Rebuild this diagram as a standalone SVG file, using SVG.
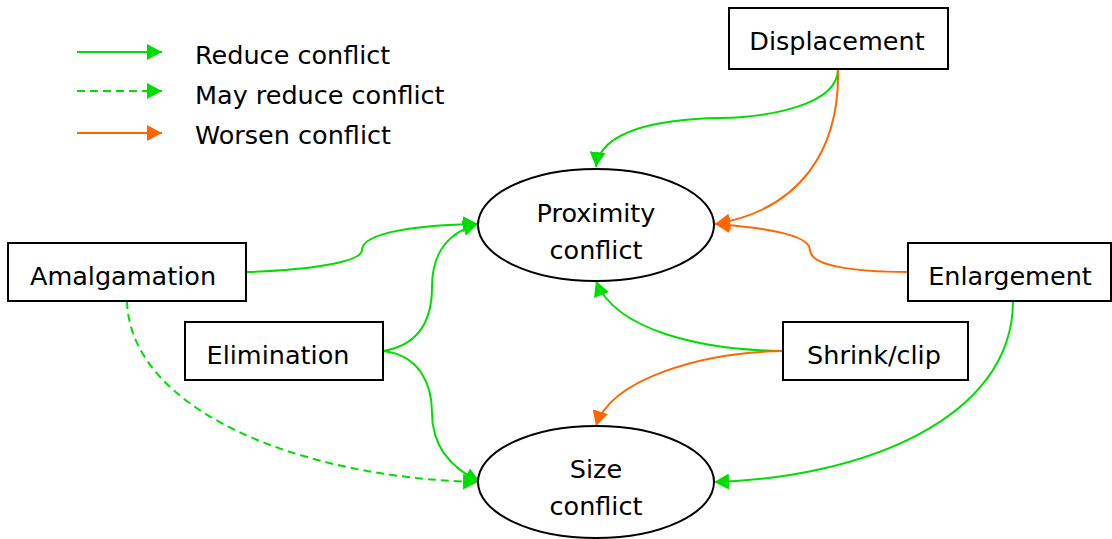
<svg xmlns="http://www.w3.org/2000/svg" width="1112" height="539" viewBox="0 0 1112 539">
<style>
.box{fill:#fff;stroke:#000;stroke-width:2}
.lbl{font-family:"DejaVu Sans",sans-serif;font-size:25.5px;fill:#000;text-anchor:middle}
.leg{font-family:"DejaVu Sans",sans-serif;font-size:25.5px;fill:#000}
.g{fill:none;stroke:#00dd00;stroke-width:2;marker-end:url(#ag)}
.gd{fill:none;stroke:#00dd00;stroke-width:2;stroke-dasharray:8,5;marker-end:url(#ag)}
.o{fill:none;stroke:#ff6600;stroke-width:2;marker-end:url(#ao)}
</style>
<defs>
<marker id="ag" markerWidth="16" markerHeight="16" refX="15" refY="8" orient="auto" markerUnits="userSpaceOnUse"><path d="M0,0 L15,8 L0,16 z" fill="#00dd00"/></marker>
<marker id="ao" markerWidth="16" markerHeight="16" refX="15" refY="8" orient="auto" markerUnits="userSpaceOnUse"><path d="M0,0 L15,8 L0,16 z" fill="#ff6600"/></marker>
</defs>
<rect width="1112" height="539" fill="#fff"/>
<g id="legend">
<path class="g" d="M77,52 L162,52"/>
<path class="gd" d="M77,91 L162,91"/>
<path class="o" d="M77,133 L162,133"/>
<text class="leg" x="195" y="64">Reduce conflict</text>
<text class="leg" x="195" y="104">May reduce conflict</text>
<text class="leg" x="195" y="144">Worsen conflict</text>
</g>
<g id="connectors">
<path class="g" d="M838,69 C838,105 770,117 720,118 C660,119 600,130 596,167"/>
<path class="o" d="M838,69 C840,150 800,210 715,224"/>
<path class="o" d="M908,272 C850,272 810,265 810,250 C810,236 770,228 715,224"/>
<path class="g" d="M246,272 C310,270 362,262 362,250 C362,232 420,225 478,224"/>
<path class="g" d="M383,351 C420,345 432,320 432,287 C432,250 450,232 478,224"/>
<path class="g" d="M383,351 C420,355 432,385 432,413 C432,450 455,470 480,482"/>
<path class="gd" d="M127,301 C130,410 300,478 478,482"/>
<path class="g" d="M783,351 C700,350 615,330 596,281"/>
<path class="o" d="M783,351 C700,352 610,380 596,426"/>
<path class="g" d="M1013,301 C1013,420 860,478 714,482"/>
</g>
<g id="proximity">
<ellipse class="box" cx="596" cy="225" rx="118" ry="56"/>
<text class="lbl" x="596" y="222">Proximity</text>
<text class="lbl" x="596" y="259">conflict</text>
</g>
<g id="size">
<ellipse class="box" cx="596" cy="482" rx="118" ry="56"/>
<text class="lbl" x="596" y="478">Size</text>
<text class="lbl" x="596" y="515">conflict</text>
</g>
<g id="displacement">
<rect class="box" x="729" y="8" width="219" height="61"/>
<text class="lbl" x="837" y="50">Displacement</text>
</g>
<g id="amalgamation">
<rect class="box" x="8" y="243" width="238" height="58"/>
<text class="lbl" x="123" y="285">Amalgamation</text>
</g>
<g id="elimination">
<rect class="box" x="185" y="322" width="198" height="58"/>
<text class="lbl" x="278" y="364">Elimination</text>
</g>
<g id="enlargement">
<rect class="box" x="908" y="243" width="203" height="58"/>
<text class="lbl" x="1010" y="285">Enlargement</text>
</g>
<g id="shrinkclip">
<rect class="box" x="783" y="322" width="185" height="58"/>
<text class="lbl" x="874" y="364">Shrink/clip</text>
</g>
</svg>
